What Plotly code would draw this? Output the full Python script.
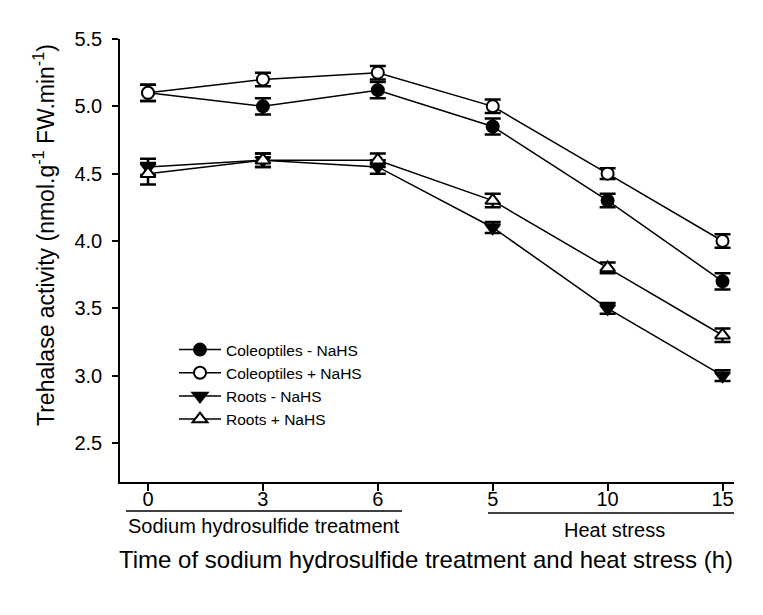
import plotly.graph_objects as go

categories = ["0", "3", "6", "5", "10", "15"]
x_pos = [0, 1, 2, 3, 4, 5]

series_names = ["Coleoptiles - NaHS", "Coleoptiles + NaHS", "Roots - NaHS", "Roots + NaHS"]
col_minus = [5.10, 5.00, 5.12, 4.85, 4.30, 3.70]
col_plus = [5.10, 5.20, 5.25, 5.00, 4.50, 4.00]
root_minus = [4.55, 4.60, 4.55, 4.10, 3.50, 3.00]
root_plus = [4.50, 4.60, 4.60, 4.30, 3.80, 3.30]
col_minus_err = [0.06, 0.06, 0.06, 0.06, 0.05, 0.06]
col_plus_err = [0.06, 0.05, 0.05, 0.05, 0.04, 0.05]
root_minus_err = [0.06, 0.05, 0.05, 0.04, 0.04, 0.04]
root_plus_err = [0.08, 0.05, 0.05, 0.05, 0.04, 0.05]

FONT = "Liberation Sans, Arial, sans-serif"

styles = [
    dict(symbol="circle", color="black", size=12),
    dict(symbol="circle", color="white", size=12),
    dict(symbol="triangle-down", color="black", size=13),
    dict(symbol="triangle-up", color="white", size=13),
]
values = [col_minus, col_plus, root_minus, root_plus]
errs = [col_minus_err, col_plus_err, root_minus_err, root_plus_err]

fig = go.Figure()
for name, y, e, st in zip(series_names, values, errs, styles):
    fig.add_trace(go.Scatter(
        x=x_pos, y=y, name=name, mode="lines+markers",
        line=dict(color="black", width=1.5),
        marker=dict(symbol=st["symbol"], size=st["size"], color=st["color"],
                    line=dict(color="black", width=2)),
        error_y=dict(type="data", array=e, visible=True, color="black",
                     thickness=2.5, width=8),
    ))

# Page body adds 8px margin; figure sized to fit the window exactly.
W, H = 755, 607
L, T, PW, PH = 112, 31, 614, 443


def px_x(sx):
    return (sx - 120) / PW


def px_y(sy):
    return (482 - sy) / PH


fig.update_layout(
    width=W, height=H,
    margin=dict(l=L, r=W - L - PW, t=T, b=H - T - PH, pad=0),
    paper_bgcolor="white", plot_bgcolor="white",
    font=dict(family=FONT, color="black"),
    showlegend=True,
    legend=dict(x=px_x(174), y=px_y(333), xanchor="left", yanchor="top",
                font=dict(size=15.5, family=FONT), bgcolor="rgba(0,0,0,0)",
                tracegroupgap=0, itemwidth=42),
    xaxis=dict(range=[-0.244, 5.1], tickmode="array", tickvals=x_pos, ticktext=categories,
               showline=True, linecolor="black", linewidth=1.5, ticks="outside",
               ticklen=7, tickwidth=1.5, tickcolor="black", showgrid=False, zeroline=False,
               ticklabelstandoff=-9,
               tickfont=dict(size=20, family=FONT)),
    yaxis=dict(range=[2.21, 5.5], tickvals=[2.5, 3.0, 3.5, 4.0, 4.5, 5.0, 5.5],
               ticktext=["2.5", "3.0", "3.5", "4.0", "4.5", "5.0", "5.5"],
               showline=True, linecolor="black", linewidth=1.5, ticks="outside",
               ticklen=6, tickwidth=1.5, tickcolor="black", showgrid=False, zeroline=False,
               ticklabelstandoff=6,
               tickfont=dict(size=20, family=FONT)),
)

# Y-axis title
fig.add_annotation(
    text="Trehalase activity (nmol.g<sup>-1</sup> FW.min<sup>-1</sup>)",
    xref="paper", yref="paper", x=px_x(44), y=px_y(235), xanchor="center", yanchor="middle",
    textangle=-90, showarrow=False, font=dict(size=23, family=FONT))

# Group labels under tick labels
fig.add_shape(type="line", xref="paper", yref="paper",
              x0=px_x(126), x1=px_x(402), y0=px_y(511), y1=px_y(511),
              line=dict(color="black", width=1.5))
fig.add_annotation(text="Sodium hydrosulfide treatment", xref="paper", yref="paper",
                   x=px_x(264), y=px_y(526), xanchor="center", yanchor="middle",
                   showarrow=False, font=dict(size=20, family=FONT))
fig.add_shape(type="line", xref="paper", yref="paper",
              x0=px_x(488), x1=px_x(734), y0=px_y(513), y1=px_y(513),
              line=dict(color="black", width=1.5))
fig.add_annotation(text="Heat stress", xref="paper", yref="paper",
                   x=px_x(614), y=px_y(530), xanchor="center", yanchor="middle",
                   showarrow=False, font=dict(size=20, family=FONT))

# X-axis title
fig.add_annotation(text="Time of sodium hydrosulfide treatment and heat stress (h)",
                   xref="paper", yref="paper", x=px_x(425.5), y=px_y(559),
                   xanchor="center", yanchor="middle", showarrow=False,
                   font=dict(size=24, family=FONT))

fig.write_html("out.html")
